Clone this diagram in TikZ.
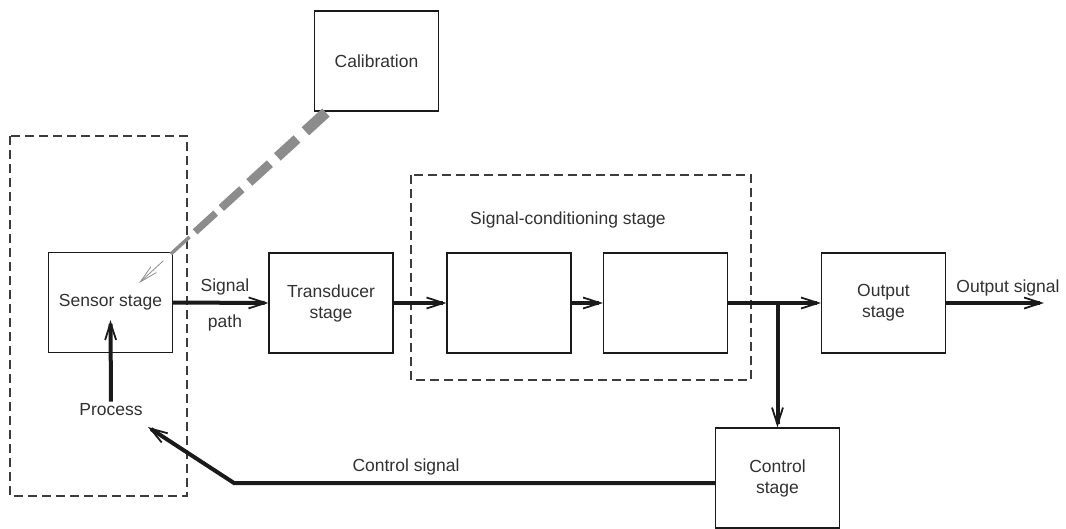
\documentclass[tikz,border=0pt]{standalone}
\usepackage{fontspec}
\setmainfont{Liberation Sans}
\usetikzlibrary{arrows.meta,calc}
\definecolor{calgray}{HTML}{8C8C8C}
\definecolor{ink}{HTML}{1A1A1A}
\begin{document}
\begin{tikzpicture}[x=1pt,y=-1pt,
  every node/.style={font=\fontsize{17.5}{21}\selectfont, text=ink!90},
  block/.style={draw=ink, line width=1.1pt, minimum width=124pt, minimum height=100pt,
                inner sep=0pt, align=center},
  group/.style={draw=ink!85, line width=1.1pt, dash pattern=on 9pt off 5pt},
  flow/.style={draw=ink, line width=4pt,
               -{Straight Barb[length=17pt,width=11pt,line width=1.8pt]}},
  feed/.style={draw=ink, line width=4pt},
  txt/.style={inner sep=2pt},
  calib/.style={draw=calgray, line cap=butt}
]
\useasboundingbox (0,0) rectangle (1066,528);

% dashed groupings
\draw[group] (10,136) rectangle (187,496);
\draw[group] (411,175) rectangle (751,380);

% blocks
\node[block] (cal)    at (376.5,61)  {Calibration};
\node[block] (sensor) at (110.5,302.5) {Sensor stage};
\node[block] (trans)  at (331,303)   {Transducer\\stage};
\node[block] (sc1)    at (509,303)   {};
\node[block] (sc2)    at (665.5,303) {};
\node[block] (out)    at (883.5,303) {Output\\stage};
\node[block] (ctrl)   at (777.5,478) {Control\\stage};

% labels
\node[txt] (sct)     at (568,220)  {Signal-conditioning stage};
\node[txt] (sig)     at (225,287)  {Signal};
\node[txt] (pathlbl) at (225,323)  {path};
\node[txt] (proc)    at (111,410)  {Process};
\node[txt] (outsig)  at (1008,288) {Output signal};
\node[txt] (ctrlsig) at (406,467)  {Control signal};

% signal path
\draw[flow] (sensor.east) -- (trans.west);
\draw[flow] (trans.east) -- (sc1.west);
\draw[flow] (sc1.east) -- (sc2.west);
\coordinate (split) at (ctrl.north |- sc2.east);
\draw[feed] (sc2.east) -- (split);
\draw[flow] (split) -- (out.west);
\draw[flow] (split) -- (ctrl.north);
\coordinate (outend) at (1044,303);
\draw[flow] (out.east) -- (outend);

% process into sensor
\coordinate (sensin) at ($(sensor.south)+(0,-33)$);
\draw[flow] (proc.north) -- (sensin);

% control feedback
\coordinate (bend) at (234,483);
\coordinate (ptip) at (148,427);
\draw[flow] (ctrl.west |- bend) -- (bend) -- (ptip);

% calibration link: tapering dashes
\coordinate (calfoot) at ($(cal.south west)+(12,1)$);
\coordinate (caltip)  at ($(sensor.north east)+(-34,31)$);
\foreach \a/\b/\w in {0/0.11/11, 0.155/0.26/10, 0.30/0.41/9,
                      0.45/0.56/8, 0.59/0.70/7, 0.73/0.83/3.5}
  \draw[calib, line width=\w pt] ($(calfoot)!\a!(caltip)$) -- ($(calfoot)!\b!(caltip)$);
\draw[calib, line width=0.8pt, -{Straight Barb[length=18pt,width=8pt,line width=0.8pt]}]
  ($(calfoot)!0.87!(caltip)$) -- (caltip);
\end{tikzpicture}
\end{document}
